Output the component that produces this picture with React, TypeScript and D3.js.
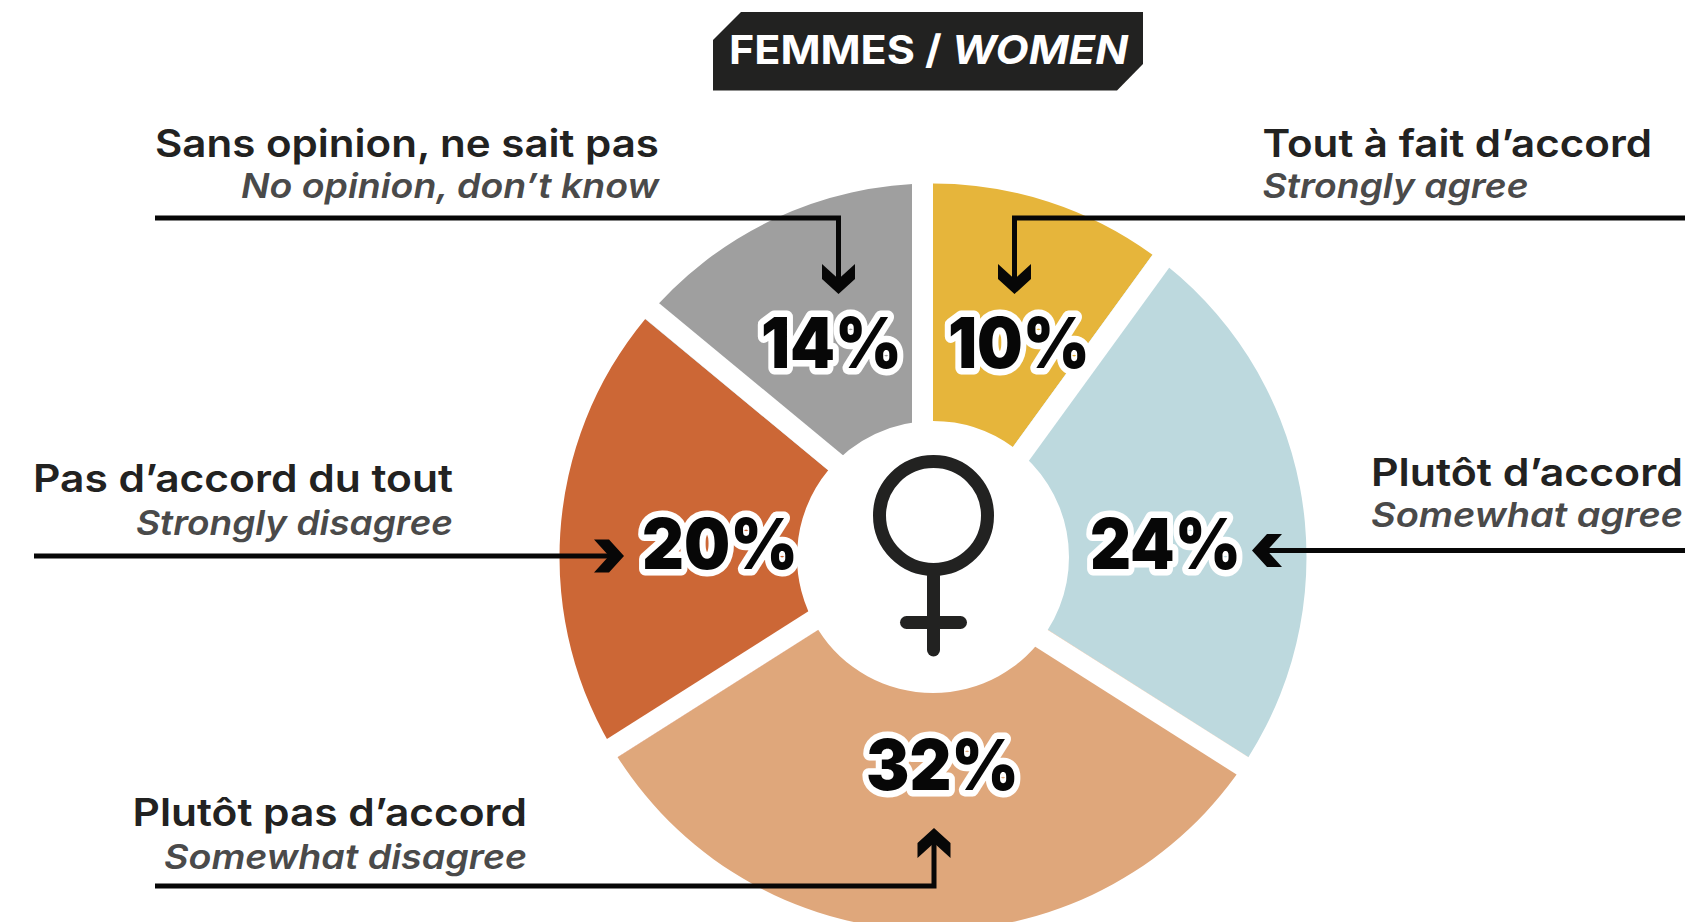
import React from "react";
import * as d3 from "d3";

const categoriesFr = ["Tout à fait d’accord", "Plutôt d’accord", "Plutôt pas d’accord", "Pas d’accord du tout", "Sans opinion, ne sait pas"];
const categoriesEn = ["Strongly agree", "Somewhat agree", "Somewhat disagree", "Strongly disagree", "No opinion, don’t know"];
const values = [10, 24, 32, 20, 14];
const colors = ["#E6B53B", "#BDD9DE", "#DFA77B", "#CC6736", "#9F9F9F"];

const FONT = "Inter, 'Open Sans', sans-serif";
const cx = 933, cy = 557, rOuter = 373.5, rInner = 136, gap = 21;

// layout per category: text box, baselines, value label box, leader path, arrow head
const layout = [
  { x0: 1262.5, x1: 1652, y1: 157, y2: 198, w2: 266, anchor: "start", vx0: 948, vx1: 1090, vy: 368,
    line: [[1685, 218], [1014.5, 218], [1014.5, 285]], tip: [1014.5, 294], dir: "down" },
  { x0: 1371, x1: 1683, y1: 486, y2: 527, w2: 312, anchor: "start", vx0: 1090, vx1: 1241, vy: 569,
    line: [[1685, 550.5], [1259, 550.5]], tip: [1252, 550.5], dir: "left" },
  { x0: 132.5, x1: 527, y1: 826, y2: 869, w2: 363, anchor: "end", vx0: 866, vx1: 1019, vy: 790,
    line: [[155, 886], [934, 886], [934, 835]], tip: [934, 828], dir: "up" },
  { x0: 33, x1: 453, y1: 492, y2: 535, w2: 317, anchor: "end", vx0: 642, vx1: 798, vy: 569,
    line: [[34, 556], [617, 556]], tip: [624, 556], dir: "right" },
  { x0: 155, x1: 659, y1: 157, y2: 198, w2: 418, anchor: "end", vx0: 761, vx1: 902, vy: 368,
    line: [[155, 218], [838.5, 218], [838.5, 285]], tip: [838.5, 294], dir: "down" },
];

function headPath(tip: number[], dir: string) {
  const [x, y] = tip;
  const w = 16.5, t = 15, h = 30;
  const back: Record<string, number[]> = { down: [0, -1], up: [0, 1], left: [1, 0], right: [-1, 0] };
  const [bx, by] = back[dir];
  const px = -by, py = bx;
  const pt = (along: number, side: number): [number, number] => [x + bx * along + px * side, y + by * along + py * side];
  return d3.line()([pt(0, 0), pt(t, w), pt(h, w), pt(t, 0), pt(h, -w), pt(t, -w)]) + "Z";
}

export default function App() {
  const pie = d3.pie<number>().sort(null).value((d) => d);
  const arc = d3.arc<d3.PieArcDatum<number>>().outerRadius(rOuter).innerRadius(rInner);
  const arcs = pie(values);
  const poly = d3.line();
  const dark = "#222221";

  // white separators: each sits on one side of the boundary between two slices
  const separators = arcs.map((a, i) => {
    const t = a.startAngle;
    const side = i === 0 ? -1 : 1;
    const ox = Math.cos(t) * side * gap / 2, oy = Math.sin(t) * side * gap / 2;
    const ex = Math.sin(t) * (rOuter + 4), ey = -Math.cos(t) * (rOuter + 4);
    return poly([[ox, oy], [ox + ex, oy + ey]]) as string;
  });

  return (
    <svg width={1689} height={922} viewBox="0 0 1689 922"
      style={{ position: "absolute", left: 0, top: 0, background: "#fff", fontFamily: FONT }}>
      <path d="M713 40 L741 12 L1143 12 L1143 64 L1117 90.5 L713 90.5 Z" fill={dark} />
      <text x={729} y={63.5} fontSize={40} fontWeight={700} fill="#fff" textLength={399} lengthAdjust="spacingAndGlyphs">
        FEMMES / <tspan fontStyle="italic">WOMEN</tspan>
      </text>

      <g transform={`translate(${cx},${cy})`}>
        {arcs.map((a, i) => (
          <path key={categoriesFr[i]} d={arc(a) as string} fill={colors[i]} />
        ))}
        {separators.map((d, i) => (
          <path key={i} d={d} fill="none" stroke="#fff" strokeWidth={gap} />
        ))}
      </g>

      <g fill="none" stroke={dark} strokeWidth={13} strokeLinecap="round">
        <circle cx={933.5} cy={515.5} r={54} />
        <path d="M933.5 576 V650" />
        <path d="M906.5 622.5 H960.5" />
      </g>

      {layout.map((l, i) => (
        <g key={i}>
          <path d={poly(l.line as [number, number][]) as string} fill="none" stroke="#070707" strokeWidth={5} />
          <path d={headPath(l.tip, l.dir)} fill="#070707" />
        </g>
      ))}

      {layout.map((l, i) => (
        <g key={i}>
          <text x={l.x0} y={l.y1} fontSize={38} fontWeight={600} fill={dark} textLength={l.x1 - l.x0} lengthAdjust="spacingAndGlyphs">
            {categoriesFr[i]}
          </text>
          <text x={l.anchor === "end" ? l.x1 - l.w2 : l.x0} y={l.y2} fontSize={34} fontWeight={600} fontStyle="italic" fill="#4a4a4a"
            textLength={l.w2} lengthAdjust="spacingAndGlyphs">
            {categoriesEn[i]}
          </text>
          <text x={l.vx0} y={l.vy} fontSize={70} fontWeight={900} fill="#070707" stroke="#fff" strokeWidth={13} strokeLinejoin="round"
            style={{ paintOrder: "stroke" }} textLength={l.vx1 - l.vx0} lengthAdjust="spacingAndGlyphs">
            {values[i]}%
          </text>
        </g>
      ))}
    </svg>
  );
}
